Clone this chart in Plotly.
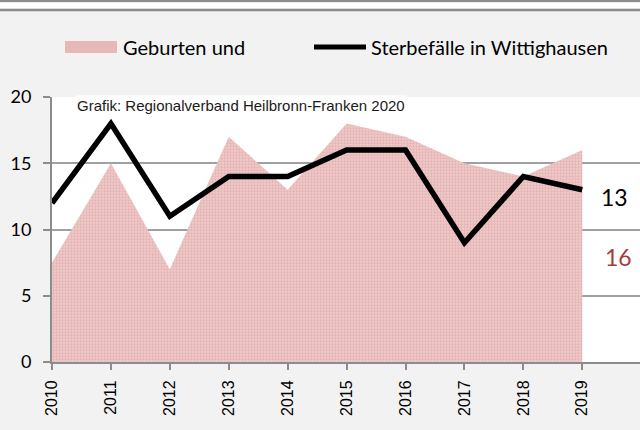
import plotly.graph_objects as go

years = [2010, 2011, 2012, 2013, 2014, 2015, 2016, 2017, 2018, 2019]
geburten = [7.5, 15, 7, 17, 13, 18, 17, 15, 14, 16]
sterbefaelle = [12, 18, 11, 14, 14, 16, 16, 9, 14, 13]
y_ticks = [0, 5, 10, 15, 20]

W, H = 640, 430
L, R, T, B = 52, 0, 97, 68
ph = H - T - B


def py(Y):
    return (H - B - Y) / ph


def px(X):
    return (X - L) / (W - L - R)


fig = go.Figure()
fig.add_trace(go.Scatter(
    x=years, y=geburten, mode="none", fill="tozeroy",
    fillcolor="#ebbdbd",
    fillpattern=dict(shape=".", fgcolor="#dc9c9c", bgcolor="#efcaca", size=3, solidity=0.45),
    name="Geburten und", hoverinfo="skip"))
fig.add_trace(go.Scatter(
    x=years, y=sterbefaelle, mode="lines",
    line=dict(color="black", width=5.5), name="Sterbefälle in Wittighausen"))

fig.update_layout(
    width=W, height=H, margin=dict(l=L, r=R, t=T, b=B),
    paper_bgcolor="#f2f2f2", plot_bgcolor="white", showlegend=False,
    xaxis=dict(range=[2010, 2019.98], tickmode="array", tickvals=years,
               ticktext=[str(y) for y in years], tickangle=-90,
               showgrid=False, showline=True, linecolor="#8c8c8c", linewidth=2,
               ticks="outside", ticklen=6, tickcolor="#8c8c8c", tickwidth=1.5,
               ticklabelstandoff=4,
               tickfont=dict(family="Liberation Sans, Arial", size=16, color="black"),
               zeroline=False, fixedrange=True),
    yaxis=dict(range=[0, 20], tickvals=y_ticks, showgrid=True, gridcolor="#a0a0a0",
               gridwidth=1.5, showline=True, linecolor="#8c8c8c", linewidth=2,
               ticks="outside", ticklen=7, tickcolor="#8c8c8c", tickwidth=1.5,
               ticklabelstandoff=8,
               tickfont=dict(family="Lato, Open Sans", size=18, color="black"),
               zeroline=False, fixedrange=True),
)

shapes = [
    dict(type="line", xref="paper", yref="paper", x0=-1, x1=2, y0=py(1), y1=py(1),
         line=dict(color="#8c8c8c", width=2.5)),
    dict(type="rect", xref="paper", yref="paper", x0=-1, x1=2, y0=py(8.5), y1=py(2.5),
         fillcolor="white", line=dict(width=0)),
    dict(type="line", xref="paper", yref="paper", x0=-1, x1=2, y0=py(10), y1=py(10),
         line=dict(color="#8c8c8c", width=2.5)),
    # legend swatches
    dict(type="rect", xref="paper", yref="paper", x0=px(65), x1=px(117), y0=py(53), y1=py(41),
         fillcolor="#e8b8b8", line=dict(width=0)),
    dict(type="line", xref="paper", yref="paper", x0=px(314), x1=px(366), y0=py(47), y1=py(47),
         line=dict(color="black", width=5)),
]
fig.update_layout(shapes=shapes)

fig.add_annotation(text="Geburten und", xref="paper", yref="paper", x=px(121), y=py(47),
                   xanchor="left", yanchor="middle", showarrow=False,
                   font=dict(family="Lato, Open Sans", size=20, color="black"))
fig.add_annotation(text="Sterbefälle in Wittighausen", xref="paper", yref="paper", x=px(369), y=py(47),
                   xanchor="left", yanchor="middle", showarrow=False,
                   font=dict(family="Lato, Open Sans", size=20, color="black"))
fig.add_annotation(text="Grafik: Regionalverband Heilbronn-Franken 2020", xref="paper", yref="paper",
                   x=px(75), y=py(105), xanchor="left", yanchor="middle", showarrow=False,
                   bgcolor="white", borderpad=1,
                   font=dict(family="Liberation Sans, Arial", size=15, color="#1a1a1a"))
fig.add_annotation(text=str(sterbefaelle[-1]), xref="paper", yref="paper", x=px(599), y=py(197),
                   xanchor="left", yanchor="middle", showarrow=False,
                   font=dict(family="Lato, Open Sans", size=23, color="black"))
fig.add_annotation(text=str(geburten[-1]), xref="paper", yref="paper", x=px(603), y=py(257),
                   xanchor="left", yanchor="middle", showarrow=False,
                   font=dict(family="Lato, Open Sans", size=23, color="#a63c3a"))

fig.write_html("out.html", config={"displayModeBar": False},
               post_script="document.body.style.margin='0';")
